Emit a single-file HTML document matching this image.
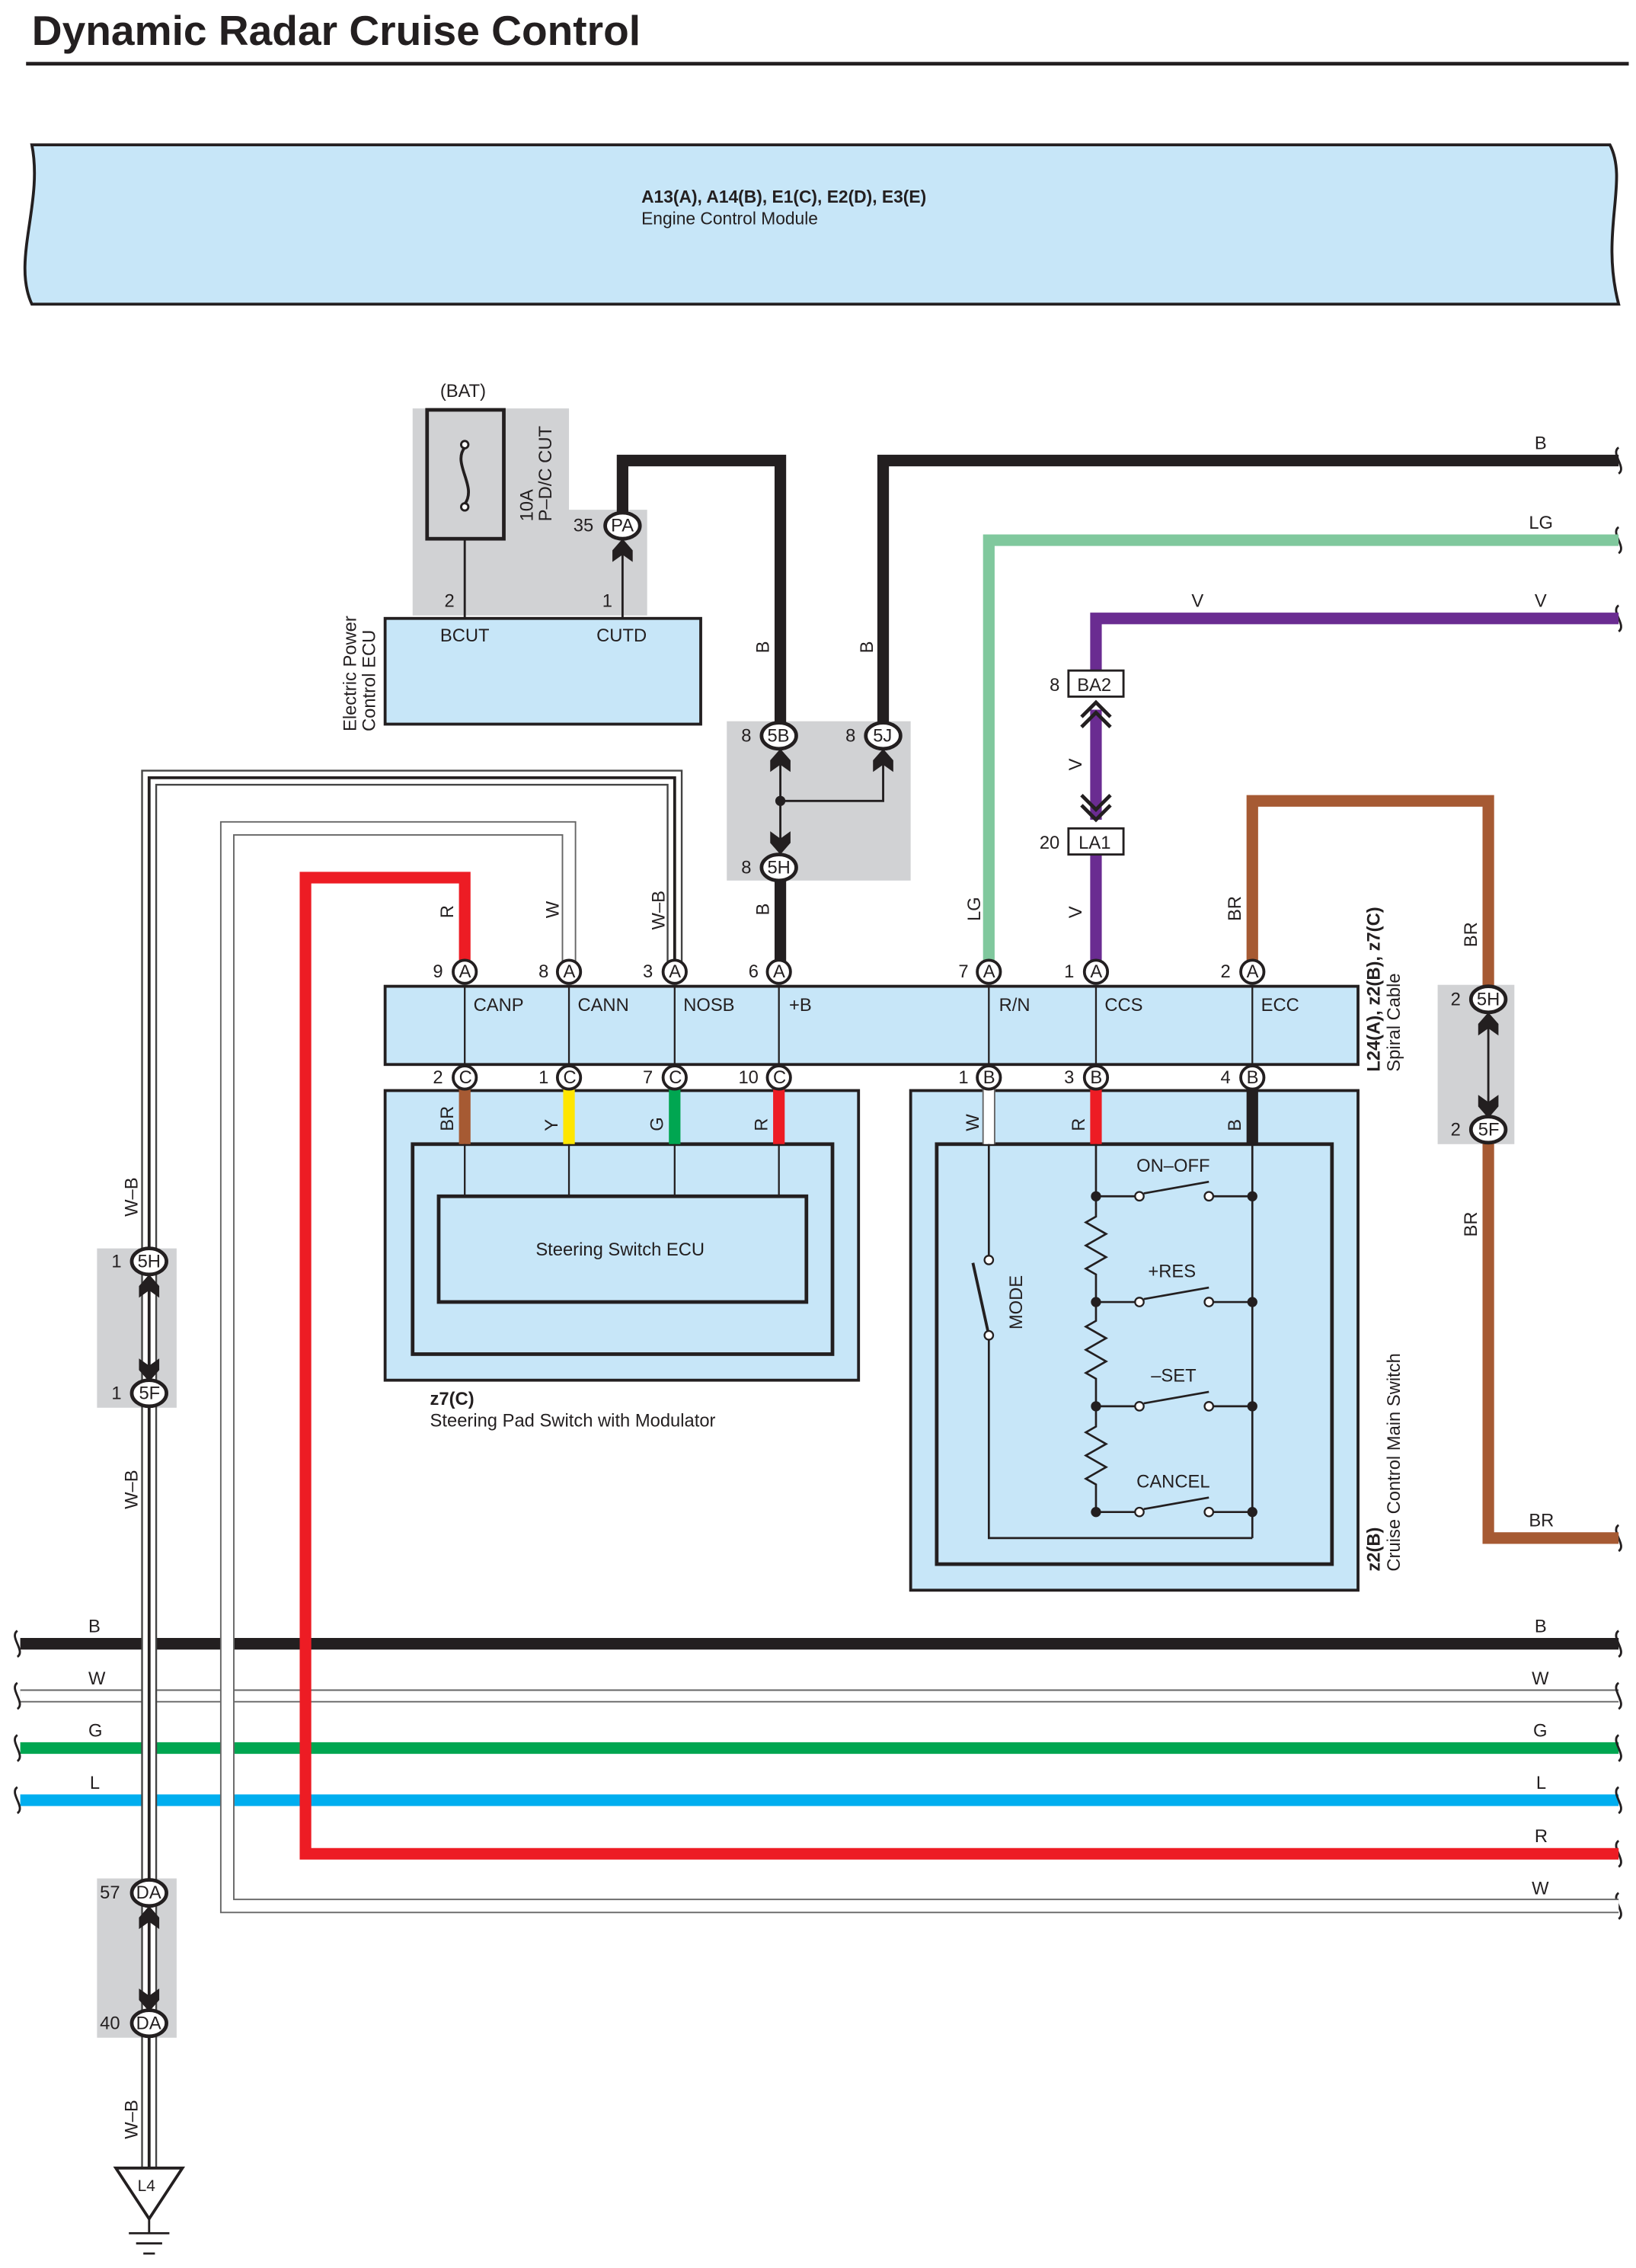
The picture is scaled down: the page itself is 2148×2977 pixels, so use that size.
<!DOCTYPE html>
<html><head><meta charset="utf-8"><style>
html,body{margin:0;padding:0;background:#fff}
svg{display:block}
text{font-family:"Liberation Sans",sans-serif;font-size:12.5px;fill:#231f20}
.b{font-weight:bold}
</style></head><body>
<svg width="2148" height="2977" viewBox="0 0 1130 1566" preserveAspectRatio="none" xmlns="http://www.w3.org/2000/svg">
<defs>
<g id="sq"><path d="M0,-9 C-6,-5 6,5 0,9" fill="none" stroke="#231f20" stroke-width="1.5"/></g>
<path id="up" d="M-7,12 L-7,4 L0,-4 L7,4 L7,12 L0,7 Z" fill="#231f20"/>
<path id="dn" d="M-7,-12 L-7,-4 L0,4 L7,-4 L7,-12 L0,-7 Z" fill="#231f20"/>
</defs>
<text x="22" y="31" class="b" style="font-size:29px">Dynamic Radar Cruise Control</text>
<line x1="18" y1="44" x2="1125" y2="44" stroke="#231f20" stroke-width="2.5"/>

<!-- ECM -->
<path d="M22,100 L1112,100 C1125,125 1105,160 1118,210 L22,210 C8,180 30,140 22,100 Z" fill="#c7e6f8" stroke="#231f20" stroke-width="2"/>
<text x="443" y="140" class="b" style="font-size:12px">A13(A), A14(B), E1(C), E2(D), E3(E)</text>
<text x="443" y="155" style="font-size:12px">Engine Control Module</text>

<!-- grey regions -->
<path d="M285,282 L393,282 L393,352 L447,352 L447,425 L285,425 Z" fill="#d1d2d4"/>
<rect x="502" y="498" width="127" height="110" fill="#d1d2d4"/>
<rect x="993" y="680" width="53" height="110" fill="#d1d2d4"/>
<rect x="67" y="862" width="55" height="110" fill="#d1d2d4"/>
<rect x="67" y="1297" width="55" height="110" fill="#d1d2d4"/>

<!-- fuse -->
<text x="304" y="274">(BAT)</text>
<rect x="295" y="283" width="53" height="89" fill="none" stroke="#231f20" stroke-width="2.5"/>
<circle cx="321" cy="307" r="2.5" fill="#fff" stroke="#231f20" stroke-width="1.5"/>
<circle cx="321" cy="350" r="2.5" fill="#fff" stroke="#231f20" stroke-width="1.5"/>
<path d="M321,309 C312,320 330,336 321,348" fill="none" stroke="#231f20" stroke-width="2"/>
<line x1="321" y1="372" x2="321" y2="427" stroke="#231f20" stroke-width="1.5"/>
<text transform="translate(368,360) rotate(-90)">10A</text>
<text transform="translate(381,360) rotate(-90)">P–D/C CUT</text>
<text x="307" y="419">2</text><text x="416" y="419">1</text>
<line x1="430" y1="370" x2="430" y2="427" stroke="#231f20" stroke-width="1.5"/>
<rect x="266" y="427" width="218" height="73" fill="#c7e6f8" stroke="#231f20" stroke-width="2"/>
<text x="304" y="443">BCUT</text><text x="412" y="443">CUTD</text>
<text transform="translate(246,505) rotate(-90)">Electric Power</text>
<text transform="translate(259,505) rotate(-90)">Control ECU</text>

<!-- bus horizontal -->
<g fill="none">
<line x1="14" y1="1135" x2="1118" y2="1135" stroke="#231f20" stroke-width="8"/>
<line x1="14" y1="1171" x2="1118" y2="1171" stroke="#666" stroke-width="9"/>
<line x1="14" y1="1171" x2="1118" y2="1171" stroke="#fff" stroke-width="7"/>
<line x1="14" y1="1207" x2="1118" y2="1207" stroke="#00a651" stroke-width="8"/>
<line x1="14" y1="1243" x2="1118" y2="1243" stroke="#00aeef" stroke-width="8"/>
</g>
<g>
<use href="#sq" x="12" y="1135"/><use href="#sq" x="12" y="1171"/><use href="#sq" x="12" y="1207"/><use href="#sq" x="12" y="1243"/>
<use href="#sq" x="1118" y="1135"/><use href="#sq" x="1118" y="1171"/><use href="#sq" x="1118" y="1207"/><use href="#sq" x="1118" y="1243"/>
<use href="#sq" x="1118" y="1280"/><use href="#sq" x="1118" y="1316"/>
<use href="#sq" x="1118" y="318"/><use href="#sq" x="1118" y="373"/><use href="#sq" x="1118" y="427"/><use href="#sq" x="1118" y="1062"/>
</g>
<text x="61" y="1127">B</text><text x="61" y="1163">W</text><text x="61" y="1199">G</text><text x="62" y="1235">L</text>
<text x="1060" y="1127">B</text><text x="1058" y="1163">W</text><text x="1059" y="1199">G</text><text x="1061" y="1235">L</text>
<text x="1060" y="1272">R</text><text x="1058" y="1308">W</text>

<!-- W wire -->
<path d="M393,664 L393,572 L157,572 L157,1316 L1118,1316" fill="none" stroke="#666" stroke-width="10"/>
<path d="M393,664 L393,572 L157,572 L157,1316 L1118,1316" fill="none" stroke="#fff" stroke-width="8"/>
<!-- W-B wire -->
<path d="M466,664 L466,537 L103,537 L103,1497" fill="none" stroke="#444" stroke-width="11"/>
<path d="M466,664 L466,537 L103,537 L103,1497" fill="none" stroke="#fff" stroke-width="8.5"/>
<path d="M466,664 L466,537 L103,537 L103,1497" fill="none" stroke="#231f20" stroke-width="2"/>
<!-- R wire -->
<path d="M321,664 L321,606 L211,606 L211,1280 L1118,1280" fill="none" stroke="#ed1c24" stroke-width="8"/>

<!-- Black wires -->
<path d="M430,356 L430,318 L539,318 L539,500" fill="none" stroke="#231f20" stroke-width="8"/>
<path d="M610,500 L610,318 L1118,318" fill="none" stroke="#231f20" stroke-width="8"/>
<line x1="539" y1="607" x2="539" y2="664" stroke="#231f20" stroke-width="8"/>
<text x="1060" y="310">B</text>
<text transform="translate(531,451) rotate(-90)">B</text>
<text transform="translate(603,451) rotate(-90)">B</text>
<text transform="translate(531,632) rotate(-90)">B</text>
<!-- junction region -->
<path d="M539,516 L539,590 M539,553 L610,553 L610,516" fill="none" stroke="#231f20" stroke-width="1.5"/>
<circle cx="539" cy="553" r="3.5" fill="#231f20"/>
<use href="#up" x="539" y="521"/><use href="#up" x="610" y="521"/><use href="#dn" x="539" y="586"/>
<!-- LG -->
<path d="M683,664 L683,373 L1118,373" fill="none" stroke="#80c89d" stroke-width="8"/>
<text x="1056" y="365">LG</text>
<text transform="translate(677,636) rotate(-90)">LG</text>
<!-- V -->
<path d="M757,463 L757,427 L1118,427" fill="none" stroke="#6a2c91" stroke-width="8"/>
<line x1="757" y1="490" x2="757" y2="566" stroke="#6a2c91" stroke-width="8"/>
<line x1="757" y1="590" x2="757" y2="664" stroke="#6a2c91" stroke-width="8"/>
<path d="M747,495 L757,485 L767,495 M747,502 L757,492 L767,502" fill="none" stroke="#231f20" stroke-width="2.5"/>
<path d="M747,556 L757,566 L767,556 M747,549 L757,559 L767,549" fill="none" stroke="#231f20" stroke-width="2.5"/>
<rect x="738" y="463" width="38" height="18" fill="#fff" stroke="#231f20" stroke-width="1.5"/>
<text x="744" y="477">BA2</text><text x="725" y="477">8</text>
<rect x="738" y="572" width="38" height="18" fill="#fff" stroke="#231f20" stroke-width="1.5"/>
<text x="745" y="586">LA1</text><text x="718" y="586">20</text>
<text x="823" y="419">V</text><text x="1060" y="419">V</text>
<text transform="translate(747,532) rotate(-90)">V</text>
<text transform="translate(747,634) rotate(-90)">V</text>
<!-- BR -->
<path d="M865,664 L865,553 L1028,553 L1028,698 M1028,772 L1028,1062 L1118,1062" fill="none" stroke="#a65a33" stroke-width="8"/>
<line x1="1028" y1="700" x2="1028" y2="770" stroke="#231f20" stroke-width="1.5"/>
<use href="#up" x="1028" y="703"/><use href="#dn" x="1028" y="768"/>
<text transform="translate(857,636) rotate(-90)">BR</text>
<text transform="translate(1020,654) rotate(-90)">BR</text>
<text transform="translate(1020,854) rotate(-90)">BR</text>
<text x="1056" y="1054">BR</text>
<!-- W-B arrows -->
<use href="#up" x="103" y="884"/><use href="#dn" x="103" y="950"/>
<use href="#up" x="103" y="1320"/><use href="#dn" x="103" y="1385"/>
<use href="#up" x="430" y="376"/>
<text transform="translate(95,840) rotate(-90)">W–B</text>
<text transform="translate(95,1042) rotate(-90)">W–B</text>
<text transform="translate(95,1477) rotate(-90)">W–B</text>
<text transform="translate(459,642) rotate(-90)">W–B</text>
<text transform="translate(313,634) rotate(-90)">R</text>
<text transform="translate(386,634) rotate(-90)">W</text>
<!-- ground -->
<path d="M80,1497 L126,1497 L103,1532 Z" fill="#fff" stroke="#231f20" stroke-width="2"/>
<text x="95" y="1513" style="font-size:11px">L4</text>
<path d="M103,1532 L103,1542 M89,1542 L117,1542 M94,1549 L112,1549 M99,1556 L107,1556" stroke="#231f20" stroke-width="1.5"/>

<!-- spiral cable -->
<rect x="266" y="681" width="672" height="54" fill="#c7e6f8" stroke="#231f20" stroke-width="2"/>
<g stroke="#231f20" stroke-width="1.2">
<line x1="321" y1="681" x2="321" y2="735"/><line x1="393" y1="681" x2="393" y2="735"/><line x1="466" y1="681" x2="466" y2="735"/><line x1="538" y1="681" x2="538" y2="735"/><line x1="683" y1="681" x2="683" y2="735"/><line x1="757" y1="681" x2="757" y2="735"/><line x1="865" y1="681" x2="865" y2="735"/>
</g>
<text x="327" y="698">CANP</text><text x="399" y="698">CANN</text><text x="472" y="698">NOSB</text><text x="545" y="698">+B</text><text x="690" y="698">R/N</text><text x="763" y="698">CCS</text><text x="871" y="698">ECC</text>
<text transform="translate(953,740) rotate(-90)" class="b">L24(A), z2(B), z7(C)</text>
<text transform="translate(967,740) rotate(-90)">Spiral Cable</text>

<!-- steering pad -->
<rect x="266" y="753" width="327" height="200" fill="#c7e6f8" stroke="#231f20" stroke-width="2"/>
<rect x="285" y="790" width="290" height="145" fill="none" stroke="#231f20" stroke-width="2.5"/>
<rect x="303" y="826" width="254" height="73" fill="#c7e6f8" stroke="#231f20" stroke-width="2.5"/>
<line x1="321" y1="752" x2="321" y2="790" stroke="#a65a33" stroke-width="8"/>
<line x1="393" y1="752" x2="393" y2="790" stroke="#ffe600" stroke-width="8"/>
<line x1="466" y1="752" x2="466" y2="790" stroke="#00a651" stroke-width="8"/>
<line x1="538" y1="752" x2="538" y2="790" stroke="#ed1c24" stroke-width="8"/>
<path d="M321,790 L321,826 M393,790 L393,826 M466,790 L466,826 M538,790 L538,826" stroke="#231f20" stroke-width="1.2"/>
<text transform="translate(313,781) rotate(-90)">BR</text>
<text transform="translate(385,781) rotate(-90)">Y</text>
<text transform="translate(458,781) rotate(-90)">G</text>
<text transform="translate(530,781) rotate(-90)">R</text>
<text x="370" y="867">Steering Switch ECU</text>
<text x="297" y="970" class="b">z7(C)</text>
<text x="297" y="985">Steering Pad Switch with Modulator</text>

<!-- main switch -->
<rect x="629" y="753" width="309" height="345" fill="#c7e6f8" stroke="#231f20" stroke-width="2"/>
<rect x="647" y="790" width="273" height="290" fill="none" stroke="#231f20" stroke-width="2.5"/>
<line x1="683" y1="752" x2="683" y2="790" stroke="#666" stroke-width="9"/>
<line x1="683" y1="752" x2="683" y2="790" stroke="#fff" stroke-width="7"/>
<line x1="757" y1="752" x2="757" y2="790" stroke="#ed1c24" stroke-width="8"/>
<line x1="865" y1="752" x2="865" y2="790" stroke="#231f20" stroke-width="8"/>
<text transform="translate(676,781) rotate(-90)">W</text>
<text transform="translate(749,781) rotate(-90)">R</text>
<text transform="translate(857,781) rotate(-90)">B</text>
<g fill="none" stroke="#231f20" stroke-width="1.4">
<path d="M683,790 L683,868 M683,924 L683,1062 L865,1062 M865,790 L865,1062"/>
<path d="M683,922 L672,872" stroke-width="2"/>
<path d="M757,790 L757,840 L750,844 L764,852 L750,860 L764,868 L750,876 L757,880 L757,912 L750,916 L764,924 L750,932 L764,940 L750,948 L757,952 L757,985 L750,989 L764,997 L750,1005 L764,1013 L750,1021 L757,1025 L757,1044"/>
<path d="M757,826 L784,826 M838,826 L865,826 M790,824 L835,816" />
<path d="M757,899 L784,899 M838,899 L865,899 M790,897 L835,889" />
<path d="M757,971 L784,971 M838,971 L865,971 M790,969 L835,961" />
<path d="M757,1044 L784,1044 M838,1044 L865,1044 M790,1042 L835,1034" />
</g>
<g fill="#fff" stroke="#231f20" stroke-width="1.2">
<circle cx="683" cy="870" r="3"/><circle cx="683" cy="922" r="3"/>
<circle cx="787" cy="826" r="3"/><circle cx="835" cy="826" r="3"/>
<circle cx="787" cy="899" r="3"/><circle cx="835" cy="899" r="3"/>
<circle cx="787" cy="971" r="3"/><circle cx="835" cy="971" r="3"/>
<circle cx="787" cy="1044" r="3"/><circle cx="835" cy="1044" r="3"/>
</g>
<g fill="#231f20">
<circle cx="757" cy="826" r="3.5"/><circle cx="865" cy="826" r="3.5"/>
<circle cx="757" cy="899" r="3.5"/><circle cx="865" cy="899" r="3.5"/>
<circle cx="757" cy="971" r="3.5"/><circle cx="865" cy="971" r="3.5"/>
<circle cx="757" cy="1044" r="3.5"/><circle cx="865" cy="1044" r="3.5"/>
</g>
<text x="785" y="809">ON–OFF</text><text x="793" y="882">+RES</text><text x="795" y="954">–SET</text><text x="785" y="1027">CANCEL</text>
<text transform="translate(706,918) rotate(-90)">MODE</text>
<text transform="translate(953,1085) rotate(-90)" class="b">z2(B)</text>
<text transform="translate(967,1085) rotate(-90)">Cruise Control Main Switch</text>

<!-- connectors -->
<g font-size="11">
<g stroke="#231f20" stroke-width="2.5" fill="#fff">
<ellipse cx="430" cy="363" rx="12" ry="9"/>
<ellipse cx="538" cy="508" rx="12" ry="9"/><ellipse cx="610" cy="508" rx="12" ry="9"/><ellipse cx="538" cy="599" rx="12" ry="9"/>
<ellipse cx="1028" cy="690" rx="12" ry="9"/><ellipse cx="1028" cy="780" rx="12" ry="9"/>
<ellipse cx="103" cy="871" rx="12" ry="9"/><ellipse cx="103" cy="962" rx="12" ry="9"/>
<ellipse cx="103" cy="1307" rx="12" ry="9"/><ellipse cx="103" cy="1397" rx="12" ry="9"/>
</g>
<g stroke="#231f20" stroke-width="2" fill="#fff">
<circle cx="321" cy="671" r="8"/><circle cx="393" cy="671" r="8"/><circle cx="466" cy="671" r="8"/><circle cx="538" cy="671" r="8"/><circle cx="683" cy="671" r="8"/><circle cx="757" cy="671" r="8"/><circle cx="865" cy="671" r="8"/>
<circle cx="321" cy="744" r="8"/><circle cx="393" cy="744" r="8"/><circle cx="466" cy="744" r="8"/><circle cx="538" cy="744" r="8"/><circle cx="683" cy="744" r="8"/><circle cx="757" cy="744" r="8"/><circle cx="865" cy="744" r="8"/>
</g>
<text x="422" y="367">PA</text><text x="396" y="367">35</text>
<text x="530" y="512">5B</text><text x="512" y="512">8</text>
<text x="603" y="512">5J</text><text x="584" y="512">8</text>
<text x="530" y="603">5H</text><text x="512" y="603">8</text>
<text x="1020" y="694">5H</text><text x="1002" y="694">2</text>
<text x="1021" y="784">5F</text><text x="1002" y="784">2</text>
<text x="95" y="875">5H</text><text x="77" y="875">1</text>
<text x="96" y="966">5F</text><text x="77" y="966">1</text>
<text x="94" y="1311">DA</text><text x="69" y="1311">57</text>
<text x="94" y="1401">DA</text><text x="69" y="1401">40</text>
<text x="317" y="675">A</text><text x="389" y="675">A</text><text x="462" y="675">A</text><text x="534" y="675">A</text><text x="679" y="675">A</text><text x="753" y="675">A</text><text x="861" y="675">A</text>
<text x="299" y="675">9</text><text x="372" y="675">8</text><text x="444" y="675">3</text><text x="517" y="675">6</text><text x="662" y="675">7</text><text x="735" y="675">1</text><text x="843" y="675">2</text>
<text x="317" y="748">C</text><text x="389" y="748">C</text><text x="462" y="748">C</text><text x="534" y="748">C</text><text x="679" y="748">B</text><text x="753" y="748">B</text><text x="861" y="748">B</text>
<text x="299" y="748">2</text><text x="372" y="748">1</text><text x="444" y="748">7</text><text x="510" y="748">10</text><text x="662" y="748">1</text><text x="735" y="748">3</text><text x="843" y="748">4</text>
</g>
</svg>
</body></html>
